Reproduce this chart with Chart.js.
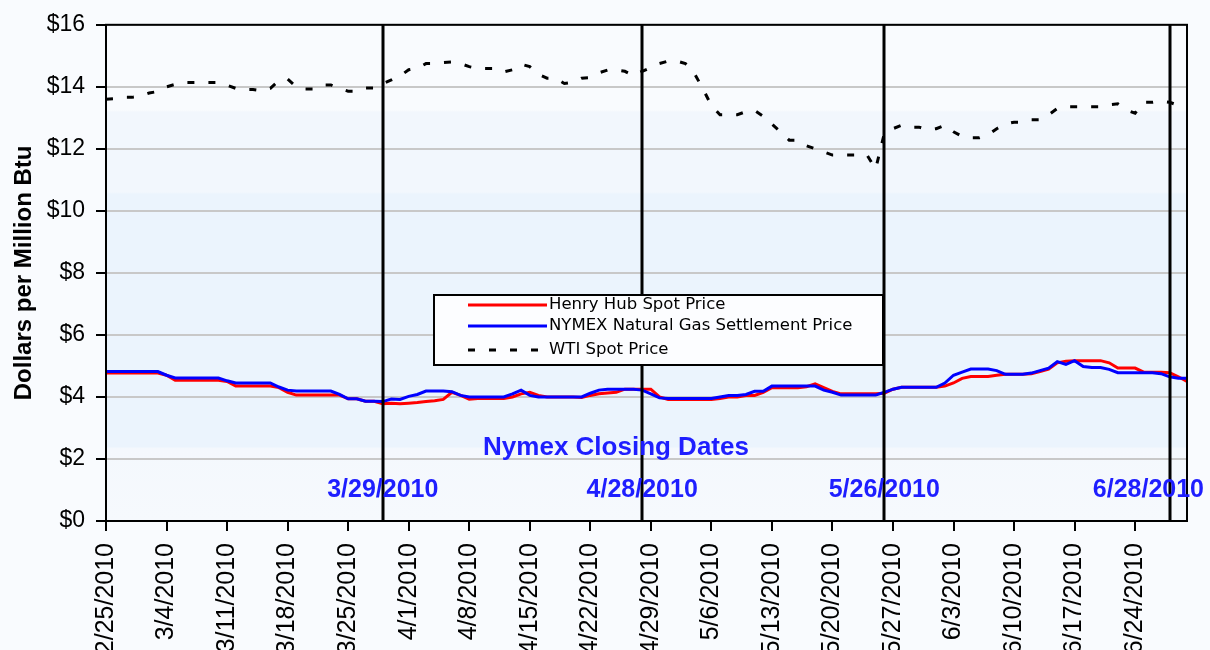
<!DOCTYPE html>
<html>
<head>
<meta charset="utf-8">
<script src="https://cdn.jsdelivr.net/npm/chart.js@4.4.0/dist/chart.umd.min.js"></script>
<style>
  html, body { margin: 0; padding: 0; background: #f9fbfe; overflow: hidden; }
  #wrap { position: relative; width: 1210px; height: 650px; }
</style>
</head>
<body>
<div id="wrap"><canvas id="chart"></canvas></div>
<script>
// daily category axis, 2/25/2010 .. 6/30/2010 (weekends carry the previous value)
const dayLabels = [];
for (let i = 0; i < 126; i++) {
  const d = new Date(2010, 1, 25 + i);
  dayLabels.push(d.getMonth() + 1 + "/" + d.getDate() + "/" + d.getFullYear());
}

// weekly tick labels under the axis
const weekTicks = [
  "2/25/2010", "3/4/2010", "3/11/2010", "3/18/2010", "3/25/2010", "4/1/2010",
  "4/8/2010", "4/15/2010", "4/22/2010", "4/29/2010", "5/6/2010", "5/13/2010",
  "5/20/2010", "5/27/2010", "6/3/2010", "6/10/2010", "6/17/2010", "6/24/2010",
];

const closingDates = ["3/29/2010", "4/28/2010", "5/26/2010", "6/28/2010"];

// $/MMBtu, one value per day
const henryHub = [
  4.77, 4.77, 4.77, 4.77, 4.77, 4.77, 4.77, 4.7, 4.54, 4.54, 4.54, 4.54, 4.54, 4.54, 4.5, 4.35,
  4.35, 4.35, 4.35, 4.35, 4.3, 4.15, 4.06, 4.06, 4.06, 4.06, 4.06, 4.06, 3.94, 3.94, 3.86, 3.86,
  3.78, 3.8, 3.78, 3.8, 3.82, 3.85, 3.88, 3.92, 4.15, 4.05, 3.93, 3.95, 3.95, 3.95, 3.95, 4.0,
  4.1, 4.15, 4.05, 4.0, 4.0, 4.0, 4.0, 3.98, 4.05, 4.1, 4.13, 4.15, 4.25, 4.25, 4.25, 4.25,
  4.0, 3.92, 3.92, 3.92, 3.92, 3.92, 3.92, 3.95, 4.0, 4.0, 4.05, 4.05, 4.15, 4.3, 4.3, 4.3,
  4.3, 4.33, 4.42, 4.3, 4.18, 4.1, 4.1, 4.1, 4.1, 4.1, 4.12, 4.25, 4.31, 4.31, 4.31, 4.31,
  4.31, 4.35, 4.45, 4.6, 4.66, 4.66, 4.66, 4.7, 4.73, 4.73, 4.73, 4.75, 4.82, 4.9, 5.1, 5.15,
  5.17, 5.17, 5.17, 5.17, 5.1, 4.93, 4.93, 4.93, 4.8, 4.8, 4.8, 4.78, 4.65, 4.5,
];

const nymex = [
  4.82, 4.82, 4.82, 4.82, 4.82, 4.82, 4.82, 4.7, 4.61, 4.61, 4.61, 4.61, 4.61, 4.61, 4.52, 4.45,
  4.45, 4.45, 4.45, 4.45, 4.32, 4.22, 4.19, 4.19, 4.19, 4.19, 4.19, 4.08, 3.94, 3.94, 3.86, 3.86,
  3.85, 3.93, 3.92, 4.02, 4.08, 4.19, 4.19, 4.19, 4.17, 4.05, 4.0, 4.0, 4.0, 4.0, 4.0, 4.1,
  4.22, 4.05, 4.0, 4.0, 4.0, 4.0, 4.0, 4.0, 4.12, 4.22, 4.25, 4.25, 4.25, 4.25, 4.22, 4.1,
  3.97, 3.95, 3.95, 3.95, 3.95, 3.95, 3.95, 4.0, 4.05, 4.05, 4.08, 4.18, 4.18, 4.35, 4.35, 4.35,
  4.35, 4.35, 4.35, 4.22, 4.15, 4.06, 4.06, 4.06, 4.06, 4.06, 4.15, 4.25, 4.31, 4.31, 4.31, 4.31,
  4.31, 4.45, 4.7, 4.8, 4.9, 4.9, 4.9, 4.85, 4.73, 4.73, 4.73, 4.77, 4.85, 4.93, 5.14, 5.05,
  5.17, 4.98, 4.95, 4.95, 4.89, 4.78, 4.78, 4.78, 4.78, 4.78, 4.75, 4.65, 4.6, 4.6,
];

const wti = [
  13.6, 13.62, 13.66, 13.66, 13.7, 13.8, 13.85, 14.0, 14.08, 14.14, 14.14, 14.14, 14.14, 14.14, 14.05, 13.95,
  13.91, 13.91, 13.87, 13.95, 14.2, 14.25, 14.0, 13.93, 13.93, 14.06, 14.06, 13.95, 13.86, 13.86, 13.96, 13.96,
  14.1, 14.22, 14.35, 14.55, 14.6, 14.75, 14.75, 14.78, 14.8, 14.75, 14.65, 14.59, 14.59, 14.59, 14.48, 14.55,
  14.73, 14.65, 14.4, 14.28, 14.28, 14.11, 14.15, 14.28, 14.3, 14.45, 14.54, 14.54, 14.5, 14.36, 14.5, 14.62,
  14.75, 14.83, 14.83, 14.75, 14.45, 13.95, 13.4, 13.1, 13.1, 13.1, 13.2, 13.24, 13.05, 12.8, 12.55, 12.28,
  12.28, 12.1, 12.0, 11.9, 11.8, 11.8, 11.8, 11.8, 11.8, 11.35, 12.5, 12.65, 12.76, 12.7, 12.7, 12.62,
  12.65, 12.76, 12.55, 12.4, 12.36, 12.36, 12.45, 12.65, 12.8, 12.86, 12.86, 12.94, 12.94, 13.1, 13.3, 13.36,
  13.36, 13.36, 13.36, 13.36, 13.42, 13.45, 13.25, 13.15, 13.5, 13.5, 13.54, 13.5, 13.4, 13.3,
];

const seriesNames = ["Henry Hub Spot Price", "NYMEX Natural Gas Settlement Price", "WTI Spot Price"];

const decor = {
  id: "decor",
  beforeDraw(chart) {
    const { ctx, chartArea: a } = chart;
    ctx.save();
    ctx.fillStyle = "#f9fbfe";
    ctx.fillRect(0, 0, chart.width, chart.height);
    const g = ctx.createLinearGradient(0, a.top, 0, a.bottom);
    g.addColorStop(0, "#f9fbfe");
    g.addColorStop(0.172, "#f9fbfe");
    g.addColorStop(0.176, "#f2f7fd");
    g.addColorStop(0.337, "#f2f7fd");
    g.addColorStop(0.341, "#ebf4fd");
    g.addColorStop(0.85, "#ebf4fd");
    g.addColorStop(0.854, "#f4f8fd");
    g.addColorStop(1, "#f6f9fd");
    ctx.fillStyle = g;
    ctx.fillRect(a.left, a.top, a.right - a.left, a.bottom - a.top);
    ctx.restore();
  },
  afterDatasetsDraw(chart) {
    const { ctx, chartArea: a } = chart;
    const xs = chart.scales.x;
    ctx.save();

    // closing date markers
    ctx.strokeStyle = "#000";
    ctx.lineWidth = 3;
    closingDates.forEach((d) => {
      const x = Math.round(xs.getPixelForValue(dayLabels.indexOf(d)));
      ctx.beginPath();
      ctx.moveTo(x, a.top);
      ctx.lineTo(x, a.bottom);
      ctx.stroke();
    });

    // plot frame
    ctx.lineWidth = 2;
    ctx.strokeRect(a.left, a.top, a.right - a.left, a.bottom - a.top);

    ctx.fillStyle = "#1e1eff";
    ctx.font = "bold 25px 'Liberation Sans', Arial, sans-serif";
    ctx.textAlign = "center";
    ctx.textBaseline = "alphabetic";
    closingDates.forEach((d) => {
      let x = xs.getPixelForValue(dayLabels.indexOf(d));
      const w = ctx.measureText(d).width;
      x = Math.min(x, 1204 - w / 2);
      ctx.fillText(d, x, 497);
    });
    ctx.font = "bold 26px 'Liberation Sans', Arial, sans-serif";
    ctx.fillText("Nymex Closing Dates", 616, 455);

    // legend box
    const lx = 434, ly = 295, lw = 449, lh = 70;
    ctx.fillStyle = "#fcfdff";
    ctx.fillRect(lx, ly, lw, lh);
    ctx.strokeStyle = "#000";
    ctx.lineWidth = 2;
    ctx.strokeRect(lx, ly, lw, lh);
    const rows = [305, 326, 350];
    ctx.font = "16.5px 'DejaVu Sans', sans-serif";
    ctx.textAlign = "left";
    ctx.textBaseline = "middle";
    chart.data.datasets.forEach((ds, i) => {
      ctx.strokeStyle = ds.borderColor;
      ctx.lineWidth = 3;
      ctx.setLineDash(ds.borderDash || []);
      ctx.beginPath();
      ctx.moveTo(468, rows[i]);
      ctx.lineTo(547, rows[i]);
      ctx.stroke();
      ctx.setLineDash([]);
      ctx.fillStyle = "#000";
      ctx.fillText(ds.label, 549, rows[i]);
    });
    ctx.restore();
  },
};

new Chart(document.getElementById("chart"), {
  type: "line",
  data: {
    labels: dayLabels,
    datasets: [
      {
        label: seriesNames[0],
        data: henryHub,
        borderColor: "#ff0000",
        borderWidth: 3,
        pointRadius: 0,
        order: 1,
      },
      {
        label: seriesNames[1],
        data: nymex,
        borderColor: "#0000ff",
        borderWidth: 3,
        pointRadius: 0,
        order: 0,
      },
      {
        label: seriesNames[2],
        data: wti,
        borderColor: "#000000",
        borderWidth: 3,
        borderDash: [7, 14],
        pointRadius: 0,
        order: 2,
      },
    ],
  },
  options: {
    responsive: true,
    maintainAspectRatio: false,
    animation: false,
    layout: { padding: { top: 20, right: 23, left: 0, bottom: 0 } },
    plugins: { legend: { display: false }, tooltip: { enabled: false } },
    scales: {
      x: {
        afterFit: (s) => {
          s.height = 129;
          s.paddingLeft = 0;
          s.paddingRight = 0;
        },
        grid: {
          drawOnChartArea: false,
          tickLength: 10,
          lineWidth: 2,
          tickColor: (c) => (c.index % 7 === 0 ? "#000" : "rgba(0,0,0,0)"),
        },
        border: { color: "#000", width: 2 },
        ticks: {
          autoSkip: false,
          minRotation: 90,
          maxRotation: 90,
          padding: 12,
          color: "#000",
          font: { family: "'Liberation Sans', Arial, sans-serif", size: 25 },
          callback: (v, i) => (i % 7 === 0 ? weekTicks[i / 7] : ""),
        },
      },
      y: {
        min: 0,
        max: 16,
        afterFit: (s) => { s.width = 106; },
        grid: { color: "#c8c8c8", lineWidth: 2, tickLength: 10, tickColor: "#000" },
        border: { color: "#000", width: 2 },
        ticks: {
          stepSize: 2,
          padding: 11,
          color: "#000",
          font: { family: "'Liberation Sans', Arial, sans-serif", size: 23 },
          callback: (v) => "$" + v,
        },
        title: {
          display: true,
          text: "Dollars per Million Btu",
          color: "#000",
          padding: { top: 10, bottom: 0 },
          font: { family: "'Liberation Sans', Arial, sans-serif", size: 24, weight: "bold" },
        },
      },
    },
  },
  plugins: [decor],
});
</script>
</body>
</html>
